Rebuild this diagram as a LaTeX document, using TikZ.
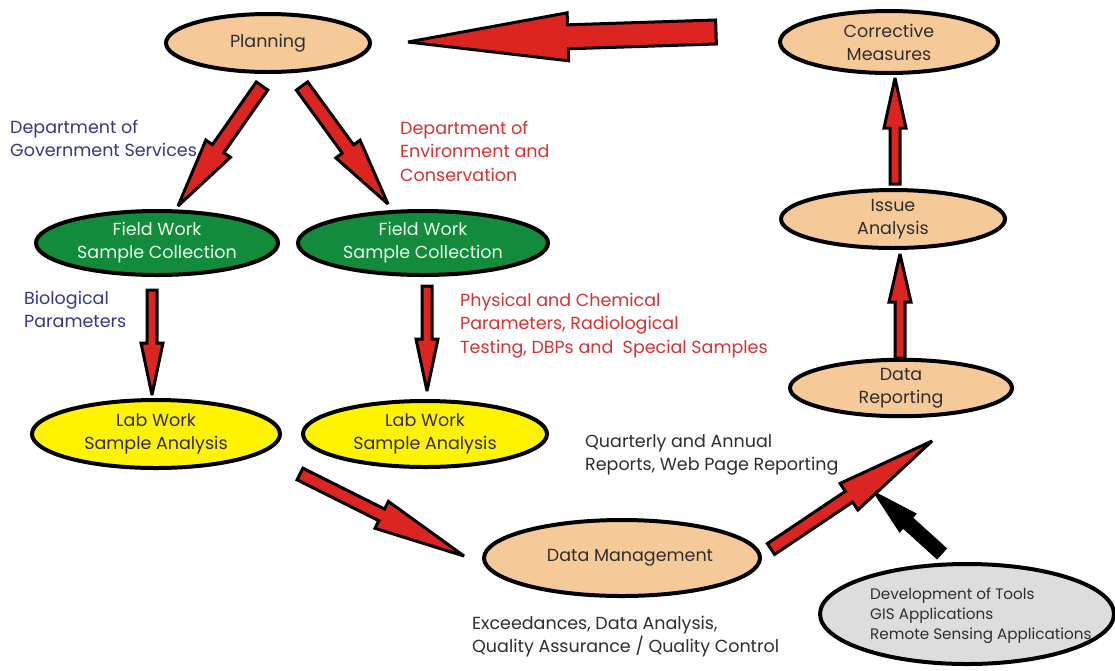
\documentclass[tikz,border=0pt]{standalone}
\usepackage{fontspec}
\setmainfont{Poppins}
\usetikzlibrary{shapes.geometric,calc}
\definecolor{tan}{RGB}{246,202,152}
\definecolor{fgreen}{RGB}{18,140,60}
\definecolor{lyellow}{RGB}{255,243,0}
\definecolor{lgray}{RGB}{221,221,221}
\definecolor{ared}{RGB}{220,36,32}
\definecolor{tblue}{RGB}{55,55,135}
\definecolor{tred}{RGB}{215,50,50}
\definecolor{tdark}{RGB}{50,45,45}
\newcommand\fatarrow[6][redarrow]{%
  \coordinate (fah) at ($(#3)!#6!(#2)$);
  \filldraw[#1] ($(#2)!#4!90:(#3)$) -- ($(fah)!#4!90:(#3)$) -- ($(fah)!#5!90:(#3)$) -- (#3)
    -- ($(fah)!#5!-90:(#3)$) -- ($(fah)!#4!-90:(#3)$) -- ($(#2)!#4!-90:(#3)$) -- cycle;}
\begin{document}
\begin{tikzpicture}[x=1pt,y=-1pt,
  oval/.style={ellipse,draw=black,line width=4pt,inner sep=0pt,align=center,
    text=tdark,font=\fontsize{17.5}{23}\selectfont},
  tanoval/.style={oval,fill=tan},
  greenoval/.style={oval,fill=fgreen,text=white!92!green},
  yellowoval/.style={oval,fill=lyellow},
  grayoval/.style={oval,fill=lgray},
  redarrow/.style={fill=ared,draw=black,line width=3pt,line join=miter,miter limit=3},
  blackarrow/.style={fill=black,draw=black,line width=3pt,line join=miter,miter limit=3},
  lbl/.style={anchor=north west,inner sep=0pt,align=left,font=\fontsize{17.5}{23.3}\selectfont},
  smalllbl/.style={anchor=north west,inner sep=0pt,align=left,text=tdark,font=\fontsize{15.2}{19.6}\selectfont}
]
\useasboundingbox (0,0) rectangle (1115,670);
\fill[white] (0,0) rectangle (1115,670);

% ellipses
\node[tanoval,minimum width=204pt,minimum height=58pt] (plan) at (268,43) {Planning};
\node[tanoval,minimum width=218pt,minimum height=62pt] (corr) at (889,42) {Corrective\\Measures};
\node[tanoval,minimum width=224pt,minimum height=58pt] (issue) at (893,219) {Issue\\Analysis};
\node[tanoval,minimum width=222pt,minimum height=56pt] (drep) at (901,388) {Data\\Reporting};
\node[greenoval,minimum width=242pt,minimum height=64pt] (field1) at (157,243) {Field Work\\Sample Collection};
\node[greenoval,minimum width=250pt,minimum height=64pt] (field2) at (423,243) {Field Work\\Sample Collection};
\node[yellowoval,minimum width=248pt,minimum height=68pt] (lab1) at (156,434) {Lab Work\\Sample Analysis};
\node[yellowoval,minimum width=244pt,minimum height=66pt] (lab2) at (425,434) {Lab Work\\Sample Analysis};
\node[tanoval,minimum width=276pt,minimum height=76pt] (dm) at (622,558) {\hspace*{16pt}Data Management};
\node[grayoval,minimum width=294pt,minimum height=100pt] (tools) at (967,614) {};
\node[smalllbl] (toolstext) at (870,588) {Development of Tools\\GIS Applications\\Remote Sensing Applications};

% labels
\node[lbl,text=tblue] (dgs) at (10,120) {Department of\\Government Services};
\node[lbl,text=tred] (dec) at (400,121) {Department of\\Environment and\\Conservation};
\node[lbl,text=tblue] (bio) at (24,291) {Biological\\Parameters};
\node[lbl,text=tred] (phys) at (460,293) {Physical and Chemical\\Parameters, Radiological\\Testing, DBPs and~~Special Samples};
\node[lbl,text=tdark] (qar) at (585,434) {Quarterly and Annual\\Reports, Web Page Reporting};
\node[lbl,text=tdark] (exc) at (472,616) {Exceedances, Data Analysis,\\Quality Assurance / Quality Control};

% arrow end points
\coordinate (t0) at (716,32);  \coordinate (h0) at (408,42);
\coordinate (t1) at (262,86);  \coordinate (h1) at (178,206);
\coordinate (t2) at (302,86);  \coordinate (h2) at (388,204);
\coordinate (t3) at (152,290); \coordinate (h3) at (152,395);
\coordinate (t4) at (427,286); \coordinate (h4) at (427,391);
\coordinate (t5) at (300,474); \coordinate (h5) at (464,556);
\coordinate (t6) at (771,549); \coordinate (h6) at (932,441);
\coordinate (t7) at (941,553); \coordinate (h7) at (876,494);
\coordinate (t8) at (900,358); \coordinate (h8) at (900,254);
\coordinate (t9) at (895,184); \coordinate (h9) at (895,78);

% arrows
\fatarrow{t0}{h0}{12pt}{24pt}{160pt}
\fatarrow{t1}{h1}{7pt}{15pt}{70pt}
\fatarrow{t2}{h2}{7pt}{15pt}{68pt}
\fatarrow{t3}{h3}{5pt}{11pt}{52pt}
\fatarrow{t4}{h4}{5pt}{11pt}{52pt}
\fatarrow{t5}{h5}{6.5pt}{15pt}{92pt}
\fatarrow{t6}{h6}{6.5pt}{16pt}{100pt}
\fatarrow[blackarrow]{t7}{h7}{6pt}{11pt}{42pt}
\fatarrow{t8}{h8}{5pt}{11pt}{48pt}
\fatarrow{t9}{h9}{5pt}{11pt}{50pt}
\end{tikzpicture}
\end{document}
